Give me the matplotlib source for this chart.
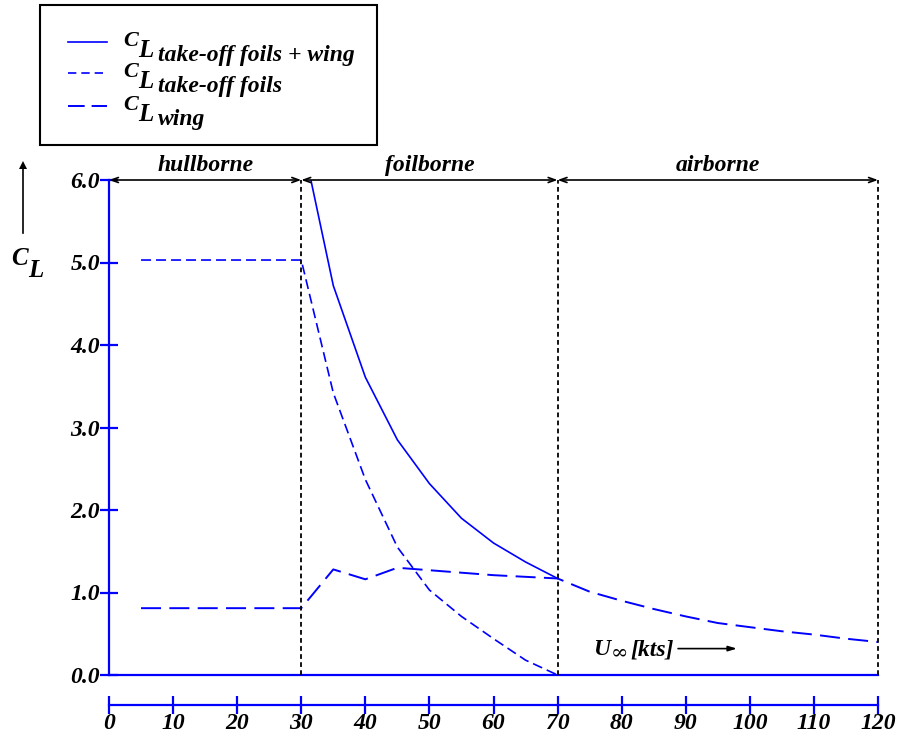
import numpy as np
import matplotlib.pyplot as plt
from matplotlib.patches import Rectangle
from matplotlib.lines import Line2D

# Lift coefficient vs. speed for a hydrofoil/wing craft
u_total = [30, 35, 40, 45, 50, 55, 60, 65, 70]
cl_total = [6.55, 4.72, 3.61, 2.85, 2.32, 1.90, 1.60, 1.37, 1.17]

u_foils = [5, 30, 35, 40, 45, 50, 55, 60, 65, 70]
cl_foils = [5.03, 5.03, 3.42, 2.37, 1.55, 1.03, 0.71, 0.44, 0.18, 0.0]

u_wing = [5, 30, 35, 40, 45, 50, 55, 60, 65, 70,
          75, 80, 85, 90, 95, 100, 105, 110, 115, 120]
cl_wing = [0.81, 0.81, 1.28, 1.16, 1.30, 1.27, 1.24, 1.21, 1.19, 1.17,
           1.01, 0.90, 0.80, 0.71, 0.63, 0.58, 0.53, 0.49, 0.44, 0.40]

regime_edges = [0, 30, 70, 120]
regime_names = ['hullborne', 'foilborne', 'airborne']

x_ticks = list(range(0, 121, 10))
y_ticks = [0.0, 1.0, 2.0, 3.0, 4.0, 5.0, 6.0]

legend_labels = ['take-off foils + wing', 'take-off foils', 'wing']

plt.rcParams['font.family'] = ['Liberation Serif', 'DejaVu Serif']
plt.rcParams['font.weight'] = 'bold'
plt.rcParams['font.style'] = 'italic'
plt.rcParams['lines.scale_dashes'] = False

BLUE = '#0000ff'
W, H = 902, 738

SOLID = '-'
SHORT_DASH = (0, (7.2, 3.6))
LONG_DASH = (0, (14.4, 6.0))
DOTTED = (0, (3.4, 2.4))


def fx(px):
    return px / W


def fy(py):
    return 1 - py / H


fig = plt.figure(figsize=(W / 100, H / 100), dpi=100)
ax = fig.add_axes([fx(109), fy(675), (878 - 109) / W, (675 - 180) / H])

ax.plot(u_total, cl_total, color=BLUE, lw=1.2, ls=SOLID)
ax.plot(u_foils, cl_foils, color=BLUE, lw=1.2, ls=SHORT_DASH)
ax.plot(u_wing, cl_wing, color=BLUE, lw=1.4, ls=LONG_DASH)

ax.set_xlim(0, 120)
ax.set_ylim(0, 6)

# y = 0 baseline; the tick scale sits below it
ax.axhline(0, color=BLUE, lw=1.6, clip_on=False)
for s in ['top', 'right']:
    ax.spines[s].set_visible(False)
ax.spines['left'].set_color(BLUE)
ax.spines['left'].set_linewidth(1.6)
ax.spines['bottom'].set_color(BLUE)
ax.spines['bottom'].set_linewidth(1.6)
ax.spines['bottom'].set_position(('outward', 21.6))

ax.set_xticks(x_ticks)
ax.set_xticklabels([str(v) for v in x_ticks])
ax.set_yticks(y_ticks)
ax.set_yticklabels([f'{v:.1f}' for v in y_ticks])
ax.tick_params(axis='both', direction='inout', color=BLUE, width=1.6,
               length=13, labelsize=17)
ax.tick_params(axis='x', pad=-1)
ax.tick_params(axis='y', pad=0)

# regime boundaries and labels
for edge in regime_edges[1:]:
    ax.plot([edge, edge], [0, 6], color='k', lw=1.3, ls=DOTTED, clip_on=False)
for a, b, name in zip(regime_edges[:-1], regime_edges[1:], regime_names):
    ax.annotate('', xy=(b, 6), xytext=(a, 6), annotation_clip=False,
                arrowprops=dict(arrowstyle='<->,head_length=0.5,head_width=0.18',
                                color='k', lw=1.2, shrinkA=0, shrinkB=0))
    ax.annotate(name, xy=((a + b) / 2, 6), xytext=(0, 3),
                textcoords='offset points', ha='center', va='bottom',
                fontsize=17, annotation_clip=False)

# speed axis label with arrow
ax.text(75.6, 0.24, 'U', fontsize=17, ha='left', va='baseline')
ax.text(78.3, 0.20, '\u221e', fontsize=15, ha='left', va='baseline',
        family=['DejaVu Serif'], fontweight='normal', style='normal')
ax.text(81.3, 0.24, '[kts]', fontsize=17, ha='left', va='baseline')
ax.annotate('', xy=(98.0, 0.32), xytext=(88.8, 0.32),
            arrowprops=dict(arrowstyle='-|>,head_length=0.5,head_width=0.15',
                            color='k', lw=1.2, shrinkA=0, shrinkB=0))

# C_L axis label with upward arrow
fig.add_artist(Line2D([fx(22.5), fx(22.5)], [fy(233), fy(168)], color='k', lw=1.2))
fig.add_artist(Line2D([fx(22.5)], [fy(165)], color='k', marker='^', ms=6, mew=0))
fig.text(fx(11), fy(265), 'C', fontsize=18, ha='left', va='baseline')
fig.text(fx(28), fy(277), 'L', fontsize=18, ha='left', va='baseline')

# legend box
fig.add_artist(Rectangle((fx(40), fy(145)), (377 - 40) / W, (145 - 5) / H,
                         transform=fig.transFigure, fill=False,
                         edgecolor='k', lw=1.5))
legend_rows = [41.7, 72.7, 106]
legend_styles = [(SOLID, 1.2), ((0, (6.0, 3.6)), 1.2), ((0, (12.0, 5.0)), 1.4)]
for row, (ls, lw), label in zip(legend_rows, legend_styles, legend_labels):
    fig.add_artist(Line2D([fx(68), fx(107)], [fy(row), fy(row)],
                          color=BLUE, lw=lw, ls=ls))
    fig.text(fx(123), fy(row + 4), 'C', fontsize=16, ha='left', va='baseline')
    fig.text(fx(138), fy(row + 15), 'L', fontsize=18, ha='left', va='baseline')
    fig.text(fx(158), fy(row + 19), label, fontsize=17, ha='left', va='baseline')

fig.savefig('out.png', dpi=100)
